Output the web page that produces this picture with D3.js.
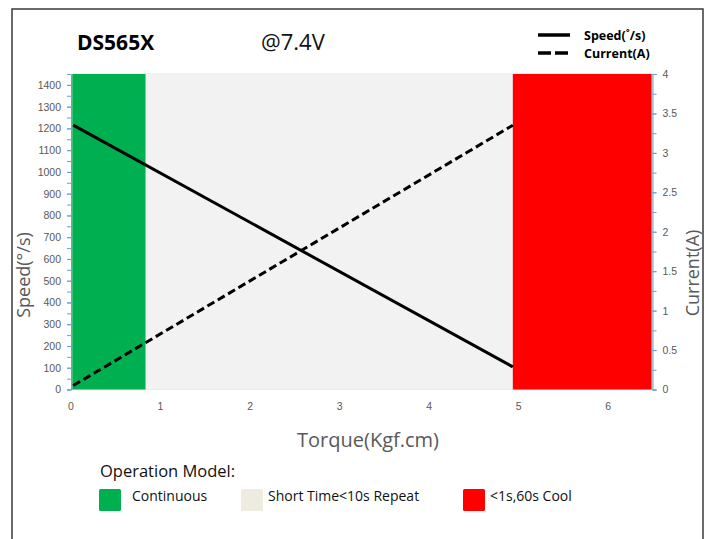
<!DOCTYPE html>
<html>
<head>
    <meta charset="utf-8">
    <title>DS565X</title>
    <script src="https://cdn.jsdelivr.net/npm/d3@7"></script>
    <style>
        body { margin: 0; background: #fff; }
        svg { display: block; font-family: "Open Sans", sans-serif; }
        .tick text { fill: #595959; font-size: 10.5px; }
        .axis-blue path, .axis-blue line { stroke: #6f9fd8; }
    </style>
</head>
<body>
<script>
    // torque in Kgf.cm
    var torqueTicks = [0, 1, 2, 3, 4, 5, 6];
    var speedTicks = [0, 100, 200, 300, 400, 500, 600, 700, 800, 900, 1000, 1100, 1200, 1300, 1400];
    var currentTicks = [0, 0.5, 1, 1.5, 2, 2.5, 3, 3.5, 4];

    // two end points of each curve
    var lineTorque = [0.03, 4.94];
    var speedValues = [1215, 104];
    var currentValues = [0.05, 3.35];

    // operation zones along torque
    var zoneNames = ["Continuous", "Short Time<10s Repeat", "<1s,60s Cool"];
    var zoneFrom = [0.02, 0.84, 4.94];
    var zoneTo = [0.84, 4.94, 6.49];

    var zoneFill = {"Continuous": "#00b050", "Short Time<10s Repeat": "#f2f2f2", "<1s,60s Cool": "#ff0000"};
    var zoneSwatch = {"Continuous": "#00b050", "Short Time<10s Repeat": "#eeece1", "<1s,60s Cool": "#ff0000"};

    var width = 714, height = 539;

    var svg = d3.select("body").append("svg")
            .attr("width", width)
            .attr("height", height);

    // outer frame (bottom edge off the picture)
    svg.append("rect")
            .attr("x", 12).attr("y", 9)
            .attr("width", 691).attr("height", 560)
            .attr("fill", "none")
            .attr("stroke", "#3a3a3a")
            .attr("stroke-width", 1.5);

    var x = d3.scaleLinear().domain([0, 6.5]).range([70.5, 652.5]);
    var ySpeed = d3.scaleLinear().domain([0, 1450]).range([389.5, 74]);
    var yCurrent = d3.scaleLinear().domain([0, 4]).range([389.5, 74]);

    // grey plot background
    svg.append("rect")
            .attr("x", x(zoneFrom[0]))
            .attr("y", ySpeed(1450))
            .attr("width", x(6.5) - x(zoneFrom[0]))
            .attr("height", ySpeed(0) - ySpeed(1450))
            .attr("fill", "#f2f2f2")
            .attr("stroke", "#e6e4dc");

    var zones = zoneNames.map(function (n, i) {
        return {name: n, from: zoneFrom[i], to: zoneTo[i]};
    });

    svg.selectAll("rect.zone")
            .data(zones)
            .enter()
            .append("rect")
            .attr("class", "zone")
            .attr("x", function (d) { return x(d.from); })
            .attr("y", ySpeed(1450))
            .attr("width", function (d) { return x(d.to) - x(d.from); })
            .attr("height", ySpeed(0) - ySpeed(1450))
            .attr("fill", function (d) { return zoneFill[d.name]; });

    // left axis: speed
    var leftG = svg.append("g")
            .attr("class", "axis-blue")
            .attr("transform", "translate(71,0)");
    leftG.call(d3.axisLeft(ySpeed).tickValues(d3.range(0, 1450, 50)).tickSize(4).tickSizeOuter(4).tickFormat(""));
    svg.append("g")
            .attr("transform", "translate(71,0)")
            .call(d3.axisLeft(ySpeed).tickValues(speedTicks).tickSize(4).tickPadding(6).tickFormat(d3.format("d")))
            .call(function (g) { g.select(".domain").remove(); g.selectAll(".tick line").attr("stroke", "#6f9fd8"); });

    // right axis: current
    var rightG = svg.append("g")
            .attr("class", "axis-blue")
            .attr("transform", "translate(652.5,0)");
    rightG.call(d3.axisRight(yCurrent).tickValues(d3.range(0, 4.01, 0.25)).tickSize(4).tickSizeOuter(4).tickFormat(""));
    svg.append("g")
            .attr("transform", "translate(652.5,0)")
            .call(d3.axisRight(yCurrent).tickValues(currentTicks).tickSize(4).tickPadding(6).tickFormat(d3.format("")))
            .call(function (g) { g.select(".domain").remove(); g.selectAll(".tick line").attr("stroke", "#6f9fd8"); });

    // bottom axis: labels only
    svg.append("g")
            .attr("transform", "translate(0,389.5)")
            .call(d3.axisBottom(x).tickValues(torqueTicks).tickSize(0).tickPadding(13).tickFormat(d3.format("d")))
            .call(function (g) { g.select(".domain").remove(); });

    // curves
    var speedLine = d3.line()
            .x(function (d) { return x(d[0]); })
            .y(function (d) { return ySpeed(d[1]); });
    var currentLine = d3.line()
            .x(function (d) { return x(d[0]); })
            .y(function (d) { return yCurrent(d[1]); });

    svg.append("path")
            .datum(d3.zip(lineTorque, speedValues))
            .attr("d", speedLine)
            .attr("fill", "none")
            .attr("stroke", "#000")
            .attr("stroke-width", 3);

    svg.append("path")
            .datum(d3.zip(lineTorque, currentValues))
            .attr("d", currentLine)
            .attr("fill", "none")
            .attr("stroke", "#000")
            .attr("stroke-width", 3)
            .attr("stroke-dasharray", "8,4");

    // titles
    svg.append("text")
            .attr("x", 77).attr("y", 50)
            .attr("font-size", 21).attr("font-weight", "bold")
            .text("DS565X");
    svg.append("text")
            .attr("x", 261).attr("y", 50)
            .attr("font-size", 22)
            .attr("fill", "#111")
            .text("@7.4V");

    // axis titles
    svg.append("text")
            .attr("x", 368).attr("y", 447)
            .attr("text-anchor", "middle")
            .attr("font-size", 20).attr("fill", "#595959")
            .text("Torque(Kgf.cm)");
    svg.append("text")
            .attr("transform", "translate(30,275) rotate(-90)")
            .attr("text-anchor", "middle")
            .attr("font-size", 18).attr("fill", "#595959")
            .text("Speed(°/s)");
    svg.append("text")
            .attr("transform", "translate(699,273) rotate(-90)")
            .attr("text-anchor", "middle")
            .attr("font-size", 18).attr("fill", "#595959")
            .text("Current(A)");

    // line legend
    var lineKeys = [{label: "Speed(˚/s)", dash: null, y: 35}, {label: "Current(A)", dash: "13,4", y: 53}];
    var lk = svg.selectAll("g.lkey").data(lineKeys).enter().append("g").attr("class", "lkey");
    lk.append("line")
            .attr("x1", 538).attr("x2", 570)
            .attr("y1", function (d) { return d.y; }).attr("y2", function (d) { return d.y; })
            .attr("stroke", "#000").attr("stroke-width", 3.5)
            .attr("stroke-dasharray", function (d) { return d.dash; });
    lk.append("text")
            .attr("x", 584).attr("y", function (d) { return d.y + 4.5; })
            .attr("font-size", 12.5).attr("font-weight", "bold")
            .text(function (d) { return d.label; });

    // zone legend
    svg.append("text")
            .attr("x", 100).attr("y", 477)
            .attr("font-size", 16.5).attr("fill", "#111")
            .text("Operation Model:");

    var swatchX = [99, 241, 463];
    var zk = svg.selectAll("g.zkey").data(zones).enter().append("g").attr("class", "zkey")
            .attr("transform", function (d, i) { return "translate(" + swatchX[i] + ",489)"; });
    zk.append("rect")
            .attr("width", 22).attr("height", 22).attr("rx", 1.5)
            .attr("fill", function (d) { return zoneSwatch[d.name]; });
    zk.append("text")
            .attr("x", function (d, i) { return i === 0 ? 33 : 27; })
            .attr("y", 12)
            .attr("font-size", 14).attr("fill", "#111")
            .text(function (d) { return d.name; });
</script>
</body>
</html>
